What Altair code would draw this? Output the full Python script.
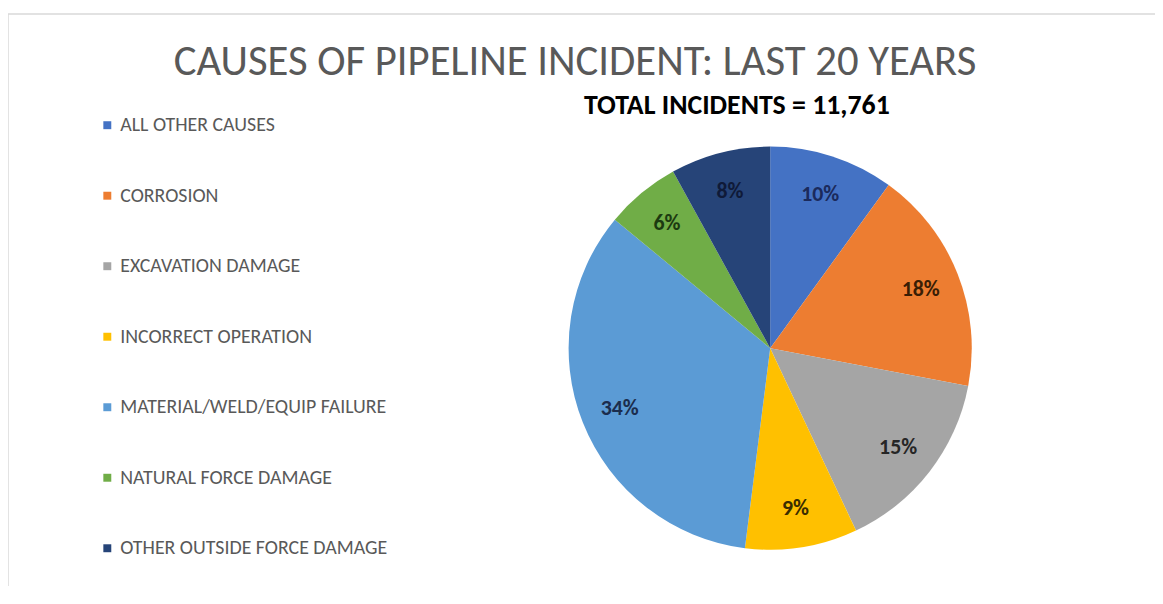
import altair as alt
import pandas as pd

# ---- data ----
CAUSES = [
    "ALL OTHER CAUSES",
    "CORROSION",
    "EXCAVATION DAMAGE",
    "INCORRECT OPERATION",
    "MATERIAL/WELD/EQUIP FAILURE",
    "NATURAL FORCE DAMAGE",
    "OTHER OUTSIDE FORCE DAMAGE",
]
SHARES = [10, 18, 15, 9, 34, 6, 8]
TITLE = "CAUSES OF PIPELINE INCIDENT: LAST 20 YEARS"
SUBTITLE = "TOTAL INCIDENTS = 11,761"

# ---- styles ----
COLORS = ["#4472C4", "#ED7D31", "#A5A5A5", "#FFC000", "#5B9BD5", "#70AD47", "#264478"]
LABEL_COLORS = ["#1b2a5c", "#3a1e05", "#262626", "#3a2d00", "#1b2d4d", "#1c3a10", "#0f1a38"]
FONT = "Carlito, Lato, sans-serif"

W, H = 1155, 580
CX, CY = 767.5, 340.5
R = 203

df = pd.DataFrame({
    "cause": CAUSES,
    "share": SHARES,
    "order": list(range(len(CAUSES))),
    "label": [f"{s}%" for s in SHARES],
    "lc": LABEL_COLORS,
})

base = alt.Chart(df).encode(
    theta=alt.Theta("share:Q", stack=True),
    order=alt.Order("order:Q"),
    x=alt.value(CX),
    y=alt.value(CY),
)

pie = base.mark_arc(radius=R, stroke=None).encode(
    color=alt.Color(
        "cause:N",
        scale=alt.Scale(domain=CAUSES, range=COLORS),
        legend=alt.Legend(
            title=None,
            orient="none",
            legendX=90,
            legendY=106,
            symbolType="square",
            symbolSize=64,
            symbolStrokeWidth=0,
            labelFont=FONT,
            labelFontSize=20,
            labelColor="#595959",
            labelOffset=3,
            rowPadding=51,
            labelLimit=400,
        ),
    )
)

labels = base.mark_text(radius=163, font=FONT, fontSize=22, fontWeight="bold").encode(
    text="label:N",
    color=alt.Color("lc:N", scale=None),
)

title = alt.Chart(pd.DataFrame({"t": [TITLE]})).mark_text(
    font=FONT, fontSize=43, color="#595959", align="center", baseline="middle"
).encode(text="t:N", x=alt.value(571), y=alt.value(52))

subtitle = alt.Chart(pd.DataFrame({"t": [SUBTITLE]})).mark_text(
    font=FONT, fontSize=28, fontWeight="bold", color="#000000", align="center", baseline="middle"
).encode(text="t:N", x=alt.value(734), y=alt.value(97))

frame_top = alt.Chart(pd.DataFrame({"a": [0]})).mark_rule(color="#d9d9d9", strokeWidth=1.5).encode(
    x=alt.value(0), x2=alt.value(W), y=alt.value(4)
)
frame_left = alt.Chart(pd.DataFrame({"a": [0]})).mark_rule(color="#d9d9d9", strokeWidth=1.5).encode(
    x=alt.value(0), y=alt.value(4), y2=alt.value(H)
)

chart = alt.layer(frame_top, frame_left, pie, labels, title, subtitle).properties(
    width=W, height=H, autosize="none", padding=0
).configure_view(stroke=None)

chart.save("out.html", embed_options={"renderer": "svg", "actions": False})
